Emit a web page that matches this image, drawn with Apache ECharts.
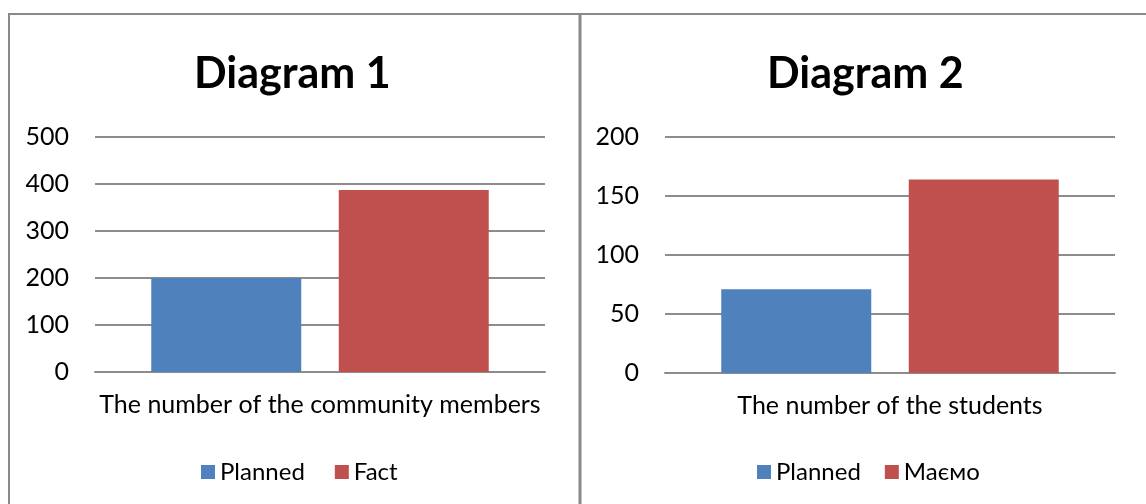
<!DOCTYPE html>
<html>
<head>
<meta charset="utf-8">
<script src="https://cdn.jsdelivr.net/npm/echarts@6/dist/echarts.min.js"></script>
<style>
  html, body { margin: 0; padding: 0; background: #fff; }
  #main { width: 1146px; height: 504px; }
</style>
</head>
<body>
<div id="main"></div>
<script>
  // data
  const titles = ['Diagram 1', 'Diagram 2'];
  const categories1 = ['The number of the community members'];
  const categories2 = ['The number of the students'];
  const seriesNames1 = ['Planned', 'Fact'];
  const seriesNames2 = ['Planned', 'Маємо'];
  const planned1 = [200];
  const fact1 = [387];
  const planned2 = [71];
  const have2 = [164];

  const FONT = 'Lato';
  const colors = ['#4f81bd', '#c0504d'];
  const gridColor = '#8c8c8c';

  function yAxis(idx, max, interval) {
    return {
      type: 'value', gridIndex: idx, min: 0, max: max, interval: interval,
      axisLine: { show: false }, axisTick: { show: false },
      axisLabel: { color: '#000', fontSize: 25, fontFamily: FONT, margin: 26 },
      splitLine: { lineStyle: { color: gridColor, width: 2 } }
    };
  }
  function xAxis(idx, data) {
    return {
      type: 'category', gridIndex: idx, data: data,
      axisLine: { lineStyle: { color: gridColor, width: 2 } },
      axisTick: { show: false },
      axisLabel: { color: '#000', fontSize: 25, fontFamily: FONT, margin: 20 }
    };
  }
  function bar(name, idx, data, color) {
    return {
      name: name, type: 'bar', xAxisIndex: idx, yAxisIndex: idx, data: data,
      barWidth: 150, barGap: '25%', itemStyle: { color: color }
    };
  }

  const titleStyle = { fontSize: 43, fontWeight: 'bold', fontFamily: FONT, color: '#000' };
  const legendText = { fontSize: 24, fontFamily: FONT, color: '#000' };

  const chart = echarts.init(document.getElementById('main'));
  chart.setOption({
    animation: false,
    color: colors,
    title: [
      { text: titles[0], left: 189, top: 48, textStyle: titleStyle },
      { text: titles[1], left: 762, top: 48, textStyle: titleStyle }
    ],
    legend: [
      { data: seriesNames1, left: 196, top: 455, itemWidth: 14, itemHeight: 14, itemGap: 30,
        icon: 'rect', textStyle: legendText, selectedMode: false },
      { data: seriesNames2, left: 752, top: 455, itemWidth: 14, itemHeight: 14, itemGap: 24,
        icon: 'rect', textStyle: legendText, selectedMode: false }
    ],
    grid: [
      { left: 95, width: 450, top: 137, height: 235 },
      { left: 665, width: 450, top: 137, height: 236 }
    ],
    xAxis: [xAxis(0, categories1), xAxis(1, categories2)],
    yAxis: [yAxis(0, 500, 100), yAxis(1, 200, 50)],
    series: [
      bar(seriesNames1[0], 0, planned1, colors[0]),
      bar(seriesNames1[1], 0, fact1, colors[1]),
      bar(seriesNames2[0], 1, planned2, colors[0]),
      bar(seriesNames2[1], 1, have2, colors[1])
    ],
    graphic: [
      { type: 'line', shape: { x1: 8, y1: 14, x2: 1146, y2: 14 }, style: { stroke: '#8a8a8a', lineWidth: 2 } },
      { type: 'line', shape: { x1: 9, y1: 13, x2: 9, y2: 504 }, style: { stroke: '#8a8a8a', lineWidth: 2 } },
      { type: 'line', shape: { x1: 580, y1: 13, x2: 580, y2: 504 }, style: { stroke: '#8a8a8a', lineWidth: 3 } }
    ]
  });
</script>
</body>
</html>
